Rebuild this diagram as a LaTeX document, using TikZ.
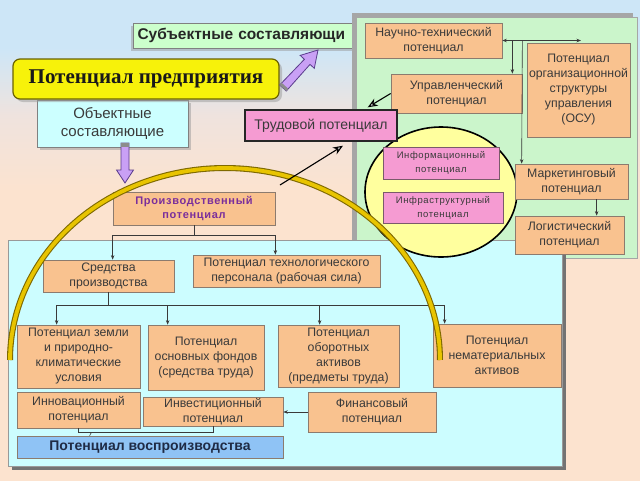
\documentclass[tikz,border=0pt]{standalone}
\usepackage{fontspec}
\setmainfont{Liberation Sans}
\newfontfamily\titlefont{Liberation Serif}
\newfontfamily\spacedfont[LetterSpace=6]{Liberation Sans}
\usetikzlibrary{arrows.meta,calc,shadows}
\definecolor{bgblue}{HTML}{CDE6F7}
\definecolor{bgmid}{HTML}{EFE3DE}
\definecolor{bgpeach}{HTML}{FCE3CF}
\definecolor{peach}{HTML}{F9C28F}
\definecolor{bordc}{HTML}{8C7B6E}
\definecolor{txtc}{HTML}{3A3A3A}
\definecolor{linec}{HTML}{3A3A3A}
\definecolor{greenp}{HTML}{CBF5CB}
\definecolor{cyanp}{HTML}{CCFDFF}
\definecolor{pinkf}{HTML}{F59BD2}
\definecolor{pinkline}{HTML}{7A5A6A}
\definecolor{circy}{HTML}{FFFF9E}
\definecolor{subjg}{HTML}{CCFFCC}
\definecolor{objc}{HTML}{CCFFFF}
\definecolor{ttlyel}{HTML}{F7F20A}
\definecolor{ttlline}{HTML}{6B6200}
\definecolor{vospb}{HTML}{8FC3F5}
\definecolor{vosptxt}{HTML}{1F2B45}
\definecolor{prodtxt}{HTML}{7A2E9C}
\definecolor{purpf}{HTML}{C9A0F5}
\definecolor{purpl}{HTML}{5A3C8C}
\definecolor{arcy}{HTML}{E8C400}
\definecolor{arcd}{HTML}{7F6A00}
% shading: the band 25bp..75bp is mapped onto the filled rectangle
\pgfdeclareverticalshading{bgsh}{100bp}{color(0bp)=(bgpeach); color(55bp)=(bgpeach); color(63bp)=(bgmid); color(70bp)=(bgblue); color(100bp)=(bgblue)}
\newcommand\B[7]{\node[#1, minimum width={#5pt-#3pt}, minimum height={#6pt-#4pt}] (#2) at ({(#3+#5)/2},{(#4+#6)/2}) {#7};}
\begin{document}
\begin{tikzpicture}[x=1pt,y=-1pt,
  box/.style={draw=bordc, fill=peach, line width=0.7pt, inner sep=1pt, align=center, text=txtc, font=\fontsize{12.3}{15}\selectfont},
  pinkbox/.style={draw=pinkline, fill=pinkf, line width=0.8pt, inner sep=1pt, align=center, text=txtc, font=\fontsize{9.5}{14}\spacedfont},
  subjbox/.style={draw=gray, fill=subjg, line width=0.7pt, inner sep=0pt, text width=212pt, align=left, text=black!85, font=\fontsize{15.5}{18}\selectfont\bfseries, drop shadow={shadow xshift=-2pt, shadow yshift=-3pt, fill=black!40}},
  objbox/.style={draw=gray, fill=objc, line width=0.7pt, inner sep=1pt, align=center, text=txtc, font=\fontsize{15}{17.5}\selectfont, drop shadow={shadow xshift=3pt, shadow yshift=-3pt, fill=black!40}},
  titlebox/.style={draw=ttlline, fill=ttlyel, line width=1.2pt, rounded corners=7pt, inner sep=1pt, align=center, text=black!90, font=\fontsize{21}{24}\titlefont\bfseries, drop shadow={shadow xshift=3pt, shadow yshift=-3pt, fill=black!40}},
  trudbox/.style={draw=black!85, fill=pinkf, line width=1.4pt, inner sep=1pt, align=center, text=txtc, font=\fontsize{14}{16}\selectfont},
  vospbox/.style={draw=bordc, fill=vospb, line width=0.8pt, inner sep=1pt, align=center, text=vosptxt, font=\fontsize{14}{16}\selectfont\bfseries},
  arr/.style={draw=linec, line width=0.6pt, -{Stealth[length=4.5pt,width=3.5pt]}},
  ln/.style={draw=linec, line width=0.6pt},
  bigarr/.style={draw=black, line width=1.1pt, -{Stealth[length=10pt,width=8pt,fill=gray!25]}},
  purparr/.style={fill=purpf, draw=purpl, line width=0.8pt, line join=miter},
]
\useasboundingbox (0,0) rectangle (640,480);
\shade[shading=bgsh] (0,0) rectangle (640,480);

% subject box (its right end is covered by the green panel)
\B{subjbox}{subj}{133}{23}{354}{48}{Субъектные составляющи}

% green panel
\fill[black!35] (352,13) rectangle (633,254);
\draw[fill=greenp, draw=gray!70] (356,17) rectangle (637,258);

% cyan panel
\fill[black!55] (12,244) rectangle (566,470);
\draw[fill=cyanp, draw=gray!80] (8,240) rectangle (562,466);

% yellow circle
\draw[fill=circy, line width=1.6pt] (441,192) ellipse [x radius=76, y radius=65];

% green panel boxes
\B{box}{nt}{365}{23}{502}{58}{Научно-технический\\потенциал}
\B{box}{upr}{391}{74}{522}{113}{Управленческий\\потенциал}
\B{box}{osu}{527}{43}{630}{137}{Потенциал\\организационной\\структуры\\управления\\(ОСУ)}
\B{box}{mark}{515}{164}{628}{199}{Маркетинговый\\потенциал}
\B{box}{log}{515}{216}{624}{254}{Логистический\\потенциал}
\B{pinkbox}{info}{383}{147}{499}{179}{Информационный\\потенциал}
\B{pinkbox}{infra}{383}{192}{503}{223}{Инфраструктурный\\потенциал}

\coordinate (ntend) at (581,40.5);
\draw[ln, {Stealth[length=4.5pt,width=3.5pt]}-{Stealth[length=4.5pt,width=3.5pt]}] (nt.east) -- (ntend);
\draw[arr] ($(nt.east)+(10,0)$) -- ($(upr.north east)+(-10,0)$);
\draw[arr] ($(nt.east)+(20,0)$) -- ($(mark.north west)+(7,0)$);
\draw[arr] ($(mark.south west)+(82,0)$) -- ($(log.north west)+(82,0)$);

% production part
\B{box, text=prodtxt, font=\fontsize{11}{14.5}\spacedfont\bfseries}{prod}{113}{192}{275}{225}{Производственный\\потенциал}
\B{box}{sred}{43}{260}{174}{292}{Средства\\производства}
\B{box}{tech}{193}{255}{380}{287}{Потенциал технологического\\персонала (рабочая сила)}
\B{box}{zem}{17}{325}{140}{388}{Потенциал земли\\и природно-\\климатические\\условия}
\B{box}{osn}{148}{325}{264}{390}{Потенциал\\основных фондов\\(средства труда)}
\B{box}{obor}{278}{325}{399}{387}{Потенциал\\оборотных\\активов\\(предметы труда)}
\B{box}{nemat}{433}{324}{561}{387}{Потенциал\\нематериальных\\активов}
\B{box}{innov}{17}{392}{140}{428}{Инновационный\\потенциал}
\B{box}{inv}{143}{397}{283}{426}{Инвестиционный\\потенциал}
\B{box}{fin}{308}{392}{436}{432}{Финансовый\\потенциал}
\B{vospbox}{vosp}{17}{436}{283}{458}{Потенциал воспроизводства}

\draw[ln] (prod.south) -- ++(0,10) coordinate (pj);
\draw[arr] (pj) -| (sred.north -| prod.west);
\draw[arr] (pj) -| (tech.north -| prod.east);
\draw[ln] (sred.south) -- ++(0,13) coordinate (sj);
\draw[arr] (sj) -| ($(zem.north west)+(40,0)$);
\draw[arr] (sj) -| ($(osn.north west)+(20,0)$);
\draw[arr] (sj) -| ($(obor.north west)+(42,0)$);
\draw[arr] (sj) -| ($(nemat.north west)+(12,0)$);
\draw[arr] (fin.west) -- (fin.west -| inv.east);
\draw[ln] (innov.south) -- ++(0,4) -| (inv.south);
\draw[ln] ($(innov.south)+(13,4)$) -- ($(vosp.north west)+(73,0)$);

% title area
\B{objbox}{obj}{37}{100}{188}{147}{Объектные\\составляющие}
\B{titlebox}{title}{13}{59}{279}{99}{Потенциал предприятия}
\B{trudbox}{trud}{245}{110}{397}{141}{Трудовой потенциал}

% purple block arrows
\draw[purparr] (286.3,91.0) -- (310.0,64.4) -- (314.3,68.3) -- (318,50) -- (300.2,55.4) -- (304.4,59.3) -- (279.7,85.0) -- cycle;
\fill[black!45] (286.3,91.0) -- (288.3,88.8) -- (281.7,82.8) -- (279.7,85.0) -- cycle;
\draw[purparr] (121,143) -- (129,143) -- (129,170) -- (133.5,170) -- (125,183) -- (116.5,170) -- (121,170) -- cycle;
\fill[black!45] (121,143) rectangle (129,147);

% big golden arc
\draw[arcd, line width=6pt] plot[domain=180:360, samples=90, smooth] ({225+215*cos(\x)}, {360+192*sin(\x)});
\draw[arcy, line width=3.8pt] plot[domain=180:360, samples=90, smooth] ({225+215*cos(\x)}, {360+192*sin(\x)});

% black arrows
\coordinate (tail1) at (280,185);
\draw[bigarr] (tail1) -- ($(trud.south)+(22,4)$);
\draw[bigarr] (upr.west) -- ($(trud.north east)+(-30,-2)$);
\end{tikzpicture}
\end{document}
